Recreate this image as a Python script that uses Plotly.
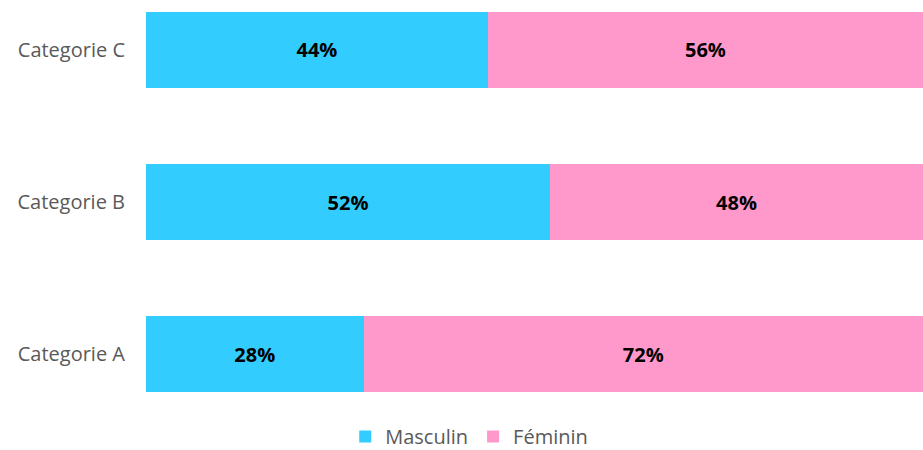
"""Répartition Masculin / Féminin par catégorie (Plotly stacked bar)."""

import plotly.graph_objects as go


CATEGORIES = ["Categorie A", "Categorie B", "Categorie C"]
MASCULIN = [28, 52, 44]
FEMININ = [72, 48, 56]

LABEL_FONT = dict(family="Open Sans", size=20, color="black", weight="bold")

fig = go.Figure(data=[
    go.Bar(
        name="Masculin", y=CATEGORIES, x=MASCULIN, orientation="h",
        marker_color="#33CCFF", marker_line_width=0,
        text=[f"{v}%" for v in MASCULIN], textposition="inside",
        insidetextanchor="middle", textfont=LABEL_FONT,
    ),
    go.Bar(
        name="Féminin", y=CATEGORIES, x=FEMININ, orientation="h",
        marker_color="#FF99CC", marker_line_width=0,
        text=[f"{v}%" for v in FEMININ], textposition="inside",
        insidetextanchor="middle", textfont=LABEL_FONT,
    ),
])

fig.update_layout(
    barmode="stack",
    bargap=0.5,
    width=923,
    height=450,
    margin=dict(l=146, r=0, t=0, b=40),
    plot_bgcolor="white",
    paper_bgcolor="white",
    font=dict(family="Open Sans", color="#595959", size=20),
    xaxis=dict(range=[0, 100], visible=False),
    yaxis=dict(
        range=[-0.3684, 2.3289], showgrid=False, zeroline=False,
        ticks="", ticklabelstandoff=20, tickfont=dict(size=20, color="#595959"),
    ),
    legend=dict(
        orientation="h", x=0.416, xanchor="center",
        yref="container", y=0.03, yanchor="middle",
        font=dict(size=20, color="#595959"), traceorder="normal",
    ),
    uniformtext=dict(mode="show", minsize=10),
)

# la page par défaut garde la marge de 8px du <body>
fig.write_html(
    "out.html",
    config={"displayModeBar": False},
    post_script="document.body.style.margin='0';",
)
